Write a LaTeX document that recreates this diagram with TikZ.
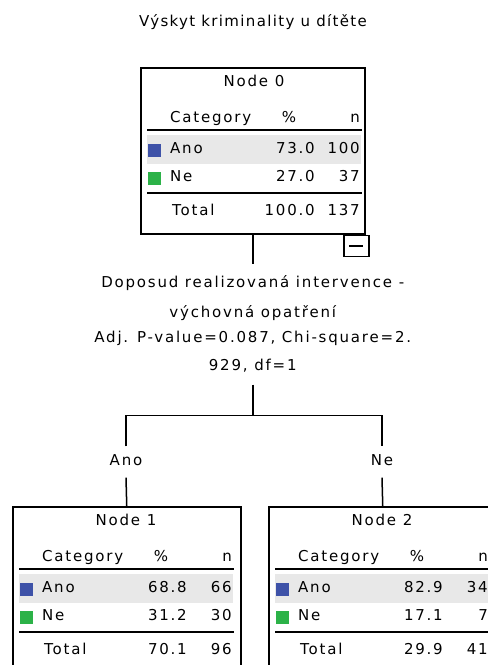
\documentclass[tikz,border=0pt]{standalone}
\usepackage{fontspec}
\setmainfont{DejaVu Sans}
\newfontfamily\spssfont[LetterSpace=12]{DejaVu Sans}
\newfontfamily\spsstitle[LetterSpace=9]{DejaVu Sans}
\usetikzlibrary{positioning}
\definecolor{anoblue}{RGB}{62,82,168}
\definecolor{negreen}{RGB}{44,178,72}
\definecolor{rowgray}{RGB}{232,232,232}

\begin{document}
\begin{tikzpicture}[x=1pt, y=-1pt, font=\spssfont\fontsize{15}{18}\selectfont, cell/.style={inner sep=0pt, text height=11pt, text depth=4pt}, box/.style={draw, line width=1.5pt, inner sep=0pt}, rule/.style={line width=1.5pt}, wire/.style={line width=1.5pt}, swatch/.style={minimum size=13pt, inner sep=0pt}]
\useasboundingbox (0,0) rectangle (488,665);
\clip (0,0) rectangle (488,665);
\node[cell, font=\spsstitle\fontsize{15}{18}\selectfont] (title) at (253,23) {Výskyt kriminality u dítěte};
\foreach \id/\bx/\by/\bw/\bh/\pa/\na/\pn/\nn/\pt/\nt in {0/140/67/224/166/73.0/100/27.0/37/100.0/137, 1/12/506/228/200/68.8/66/31.2/30/70.1/96, 2/268/506/228/200/82.9/34/17.1/7/29.9/41}{
\node[box, minimum width=\bw pt, minimum height=\bh pt, anchor=north west] (n\id) at (\bx,\by) {};
\fill[rowgray] ({\bx+7},{\by+68}) rectangle ({\bx+221},{\by+97});
\node[swatch, fill=anoblue] (sa\id) at ({\bx+14},{\by+83}) {};
\node[swatch, fill=negreen] (sn\id) at ({\bx+14},{\by+111}) {};
\node[cell] (head\id) at ({\bx+114},{\by+16}) {Node \id};
\node[cell, anchor=west] (cat\id) at ({\bx+30},{\by+52}) {Category};
\node[cell] (pc\id) at ({\bx+149},{\by+52}) {\%};
\node[cell, anchor=east] (nn\id) at ({\bx+220},{\by+52}) {n};
\draw[rule] ({\bx+7},{\by+63}) -- ({\bx+222},{\by+63});
\node[cell, anchor=west] (ano\id) at ({\bx+30},{\by+83}) {Ano};
\node[cell, anchor=east] (anop\id) at ({\bx+175},{\by+83}) {\pa};
\node[cell, anchor=east] (anon\id) at ({\bx+220},{\by+83}) {\na};
\node[cell, anchor=west] (ne\id) at ({\bx+30},{\by+111}) {Ne};
\node[cell, anchor=east] (nep\id) at ({\bx+175},{\by+111}) {\pn};
\node[cell, anchor=east] (nen\id) at ({\bx+220},{\by+111}) {\nn};
\draw[rule] ({\bx+7},{\by+126}) -- ({\bx+222},{\by+126});
\node[cell, anchor=west] (tot\id) at ({\bx+32},{\by+145}) {Total};
\node[cell, anchor=east] (totp\id) at ({\bx+175},{\by+145}) {\pt};
\node[cell, anchor=east] (totn\id) at ({\bx+220},{\by+145}) {\nt};
}
\node[box, minimum width=25pt, minimum height=21pt, anchor=north east] (toggle) at ([xshift=4pt]n0.south east) {};
\draw[wire] ([xshift=-7pt]toggle.center) -- ([xshift=7pt]toggle.center);
\node[align=center, inner xsep=0pt, inner ysep=12pt, below=29pt of n0] (split) {Doposud realizovaná intervence -\\[12pt]výchovná opatření\\[7pt]Adj. P-value=0.087, Chi-square=2.\\[10pt]929, df=1};
\coordinate[below=31pt of split] (fork);
\node[cell, inner sep=8pt] (lano) at (126,462) {Ano};
\node[cell, inner sep=8pt] (lne) at (382,462) {Ne};
\draw[wire] (n0.south) -- (split.north);
\draw[wire] (split) -- (fork);
\draw[wire] (lano) |- (fork) -| (lne);
\draw[wire] (lano.south) -- (n1.north);
\draw[wire] (lne.south) -- (n2.north);
\end{tikzpicture}
\end{document}
